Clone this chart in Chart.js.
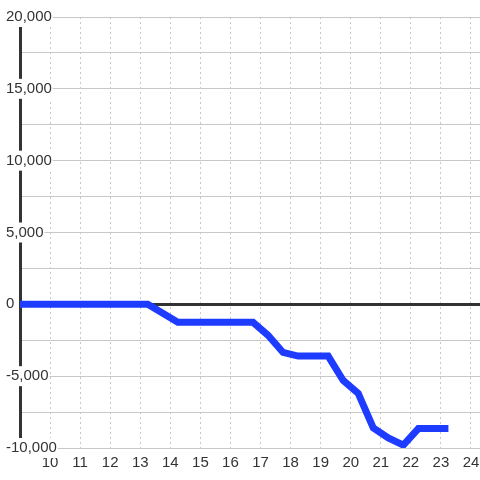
<!DOCTYPE html>
<html>
<head>
<meta charset="utf-8">
<script src="https://cdn.jsdelivr.net/npm/chart.js@4"></script>
<style>
  html, body { margin: 0; padding: 0; background: #fff; }
</style>
</head>
<body>
<canvas id="chart" width="480" height="480"></canvas>
<script>
// hour of day (x) and running value (y)
const hours = [9, 13.25, 14.25, 16.75, 17.25, 17.75, 18.25, 19.25, 19.75, 20.25, 20.75, 21.25, 21.75, 22.25, 23.25];
const values = [0, 0, -1250, -1250, -2150, -3350, -3600, -3600, -5300, -6200, -8600, -9300, -9800, -8650, -8650];
const xTicks = [10, 11, 12, 13, 14, 15, 16, 17, 18, 19, 20, 21, 22, 23, 24];
const yLabels = [-10000, -5000, 0, 5000, 10000, 15000, 20000];

const points = hours.map((h, i) => ({ x: h, y: values[i] }));
const font = { family: 'Liberation Sans, Arial, sans-serif', size: 15 };

new Chart(document.getElementById('chart'), {
  type: 'line',
  data: {
    datasets: [{
      data: points,
      borderColor: '#1e3cff',
      borderWidth: 7,
      pointRadius: 0,
      tension: 0,
      fill: false
    }]
  },
  options: {
    responsive: false,
    animation: false,
    layout: { padding: { top: 17, left: 5, right: 0, bottom: 0 } },
    plugins: { legend: { display: false }, tooltip: { enabled: false } },
    scales: {
      x: {
        type: 'linear',
        min: 9,
        max: 24.3,
        afterFit: s => { s.height = 32; s.paddingLeft = 0; s.paddingRight = 0; },
        border: { display: false, dash: [2, 3] },
        grid: { color: '#c8c8c8', lineWidth: 1, drawTicks: false },
        ticks: {
          stepSize: 1,
          includeBounds: false,
          autoSkip: false,
          maxRotation: 0,
          padding: 6,
          color: '#333',
          font: font,
          callback: v => xTicks.includes(v) ? String(v) : ''
        }
      },
      y: {
        min: -10000,
        max: 20000,
        afterFit: s => { s.width = 15; },
        border: { display: true, color: '#333', width: 3 },
        grid: {
          drawTicks: false,
          color: c => c.tick && c.tick.value === 0 ? '#333' : '#c8c8c8',
          lineWidth: c => c.tick && c.tick.value === 0 ? 3 : 1
        },
        ticks: {
          stepSize: 2500,
          mirror: true,
          crossAlign: 'near',
          padding: -14,
          color: '#333',
          font: font,
          showLabelBackdrop: c => yLabels.includes(c.tick.value) && c.tick.value !== 0,
          backdropColor: '#fff',
          backdropPadding: 1,
          callback: v => yLabels.includes(v) ? v.toLocaleString('en-US') : ''
        }
      }
    }
  }
});
</script>
</body>
</html>
